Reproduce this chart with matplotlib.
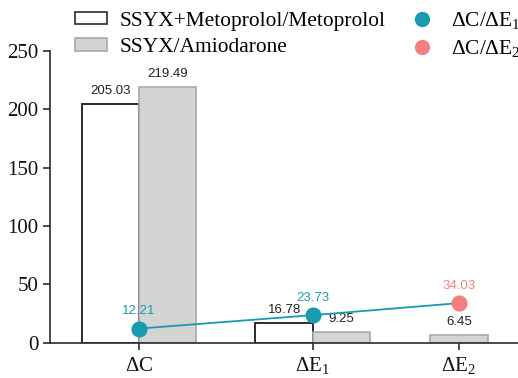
import matplotlib
matplotlib.use("Agg")
import matplotlib.pyplot as plt
from matplotlib.patches import Patch
from matplotlib.lines import Line2D

plt.rcParams['mathtext.fontset'] = 'custom'
plt.rcParams['mathtext.rm'] = 'Liberation Serif'
plt.rcParams['mathtext.it'] = 'Liberation Serif:italic'

categories = [r'$\mathrm{\Delta C}$', r'$\mathrm{\Delta E_1}$', r'$\mathrm{\Delta E_2}$']
metoprolol = [205.03, 16.78]          # SSYX+Metoprolol/Metoprolol (ΔC, ΔE1)
amiodarone = [219.49, 9.25, 6.45]     # SSYX/Amiodarone (ΔC, ΔE1, ΔE2)
ratio_e1 = [12.21, 23.73]             # ΔC/ΔE1 for each group
ratio_e2 = [34.03]                    # ΔC/ΔE2
y_ticks = [0, 50, 100, 150, 200, 250]

TEAL = '#1a9ab0'
PINK = '#f47f80'
GRAY = '#d4d4d4'
GRAY_EDGE = '#a8a8a8'
DARK = '#2b2b2b'

fig = plt.figure(figsize=(5.18, 3.78), dpi=100)
ax = fig.add_axes([0.097, 0.093, 0.903, 0.772])

xpos = [0.0, 1.0, 1.84]
w = 0.33

# paired bars for ΔC and ΔE1, single bar for ΔE2
met_x = [xpos[i] - w / 2 for i in range(len(metoprolol))]
ami_x = [xpos[i] + w / 2 for i in range(len(metoprolol))] + [xpos[2]]

ax.bar(met_x, metoprolol, width=w, color='white', edgecolor=DARK, linewidth=1.4, zorder=2)
ax.bar(ami_x, amiodarone, width=w, color=GRAY, edgecolor=GRAY_EDGE, linewidth=1.2, zorder=2)

label_font = dict(family='Liberation Sans', fontsize=9.5, color='#222222')
for x, v in zip(met_x, metoprolol):
    ax.annotate(f'{v:.2f}', (x, v), xytext=(0, 5), textcoords='offset points',
                ha='center', va='bottom', **label_font)
for x, v in zip(ami_x, amiodarone):
    ax.annotate(f'{v:.2f}', (x, v), xytext=(0, 5), textcoords='offset points',
                ha='center', va='bottom', **label_font)

# ratio line through all three points
ax.plot(xpos, ratio_e1 + ratio_e2, color=TEAL, linewidth=1.3, zorder=3)
ax.scatter(xpos[:2], ratio_e1, s=135, color=TEAL, zorder=4, linewidths=0)
ax.scatter(xpos[2:], ratio_e2, s=135, color=PINK, zorder=4, linewidths=0)
for x, v in zip(xpos[:2], ratio_e1):
    ax.annotate(f'{v:.2f}', (x, v), xytext=(0, 8), textcoords='offset points',
                ha='center', va='bottom', family='Liberation Sans', fontsize=9.5, color=TEAL)
for x, v in zip(xpos[2:], ratio_e2):
    ax.annotate(f'{v:.2f}', (x, v), xytext=(0, 8), textcoords='offset points',
                ha='center', va='bottom', family='Liberation Sans', fontsize=9.5, color=PINK)

ax.set_xlim(-0.51, 2.18)
ax.set_ylim(0, 250)
ax.set_yticks(y_ticks)
ax.set_xticks(xpos)
ax.set_xticklabels(categories)
for lab in ax.get_yticklabels():
    lab.set_family('Liberation Serif')
ax.tick_params(axis='both', labelsize=15, length=5, width=1.2, color=DARK, labelcolor='#111111')

for s in ['top', 'right']:
    ax.spines[s].set_visible(False)
for s in ['left', 'bottom']:
    ax.spines[s].set_linewidth(1.2)
    ax.spines[s].set_color(DARK)

handles = [
    Patch(facecolor='white', edgecolor=DARK, linewidth=1.2),
    Patch(facecolor=GRAY, edgecolor=GRAY_EDGE, linewidth=1.2),
    Line2D([], [], marker='o', linestyle='', markersize=11, color=TEAL, markeredgewidth=0),
    Line2D([], [], marker='o', linestyle='', markersize=11, color=PINK, markeredgewidth=0),
]
labels = ['SSYX+Metoprolol/Metoprolol', 'SSYX/Amiodarone',
          r'$\mathrm{\Delta C/\Delta E_1}$', r'$\mathrm{\Delta C/\Delta E_2}$']
fig.legend(handles, labels, ncol=2, loc='upper left', bbox_to_anchor=(0.145, 0.974),
           frameon=False, prop={'family': 'Liberation Serif', 'size': 15.4},
           handlelength=1.5, handleheight=0.5, labelspacing=0.34, columnspacing=0.95,
           handletextpad=0.6, borderaxespad=0, borderpad=0)

fig.savefig('out.png', dpi=100)
